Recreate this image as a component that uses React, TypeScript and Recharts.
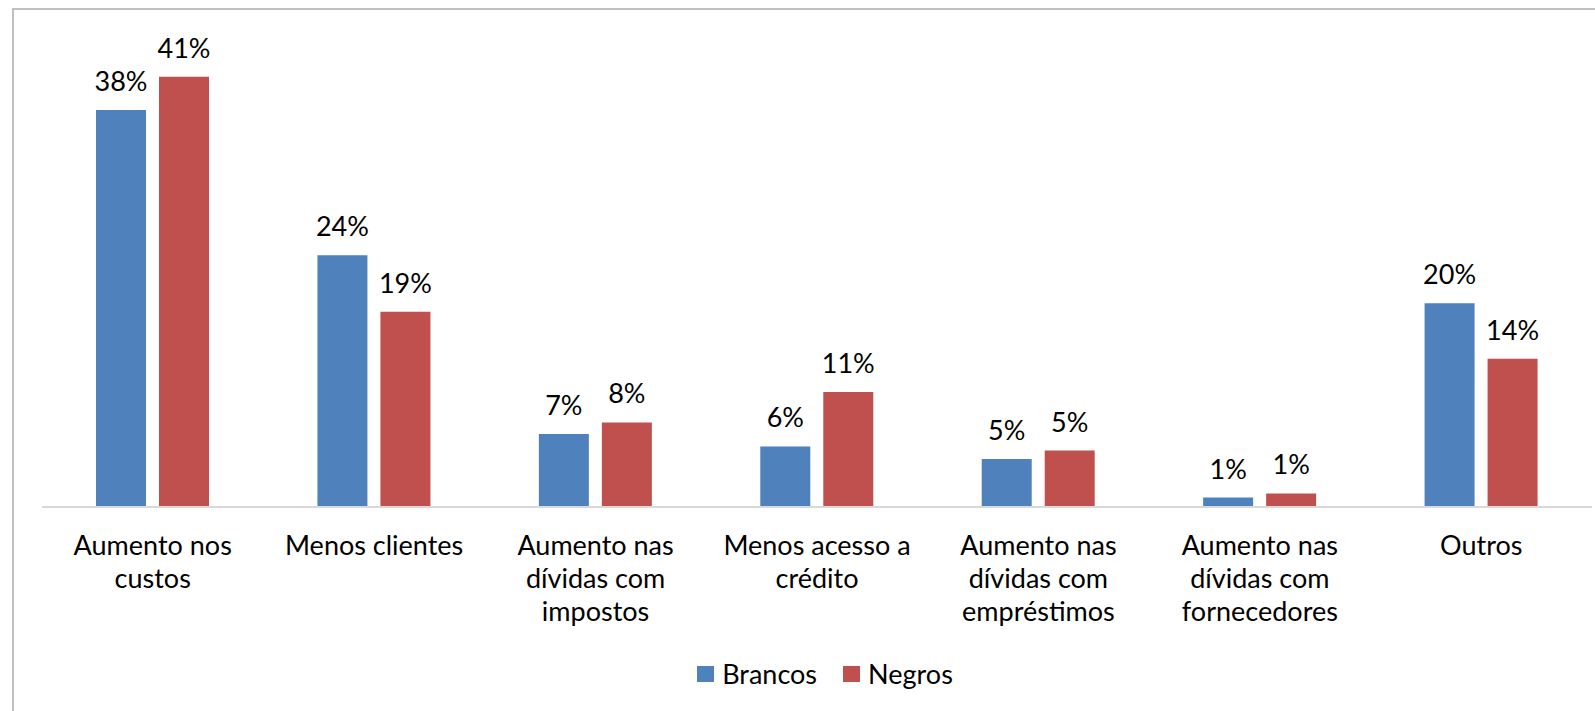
import React from "react";
import { BarChart, Bar, XAxis, YAxis, LabelList, Legend } from "recharts";

const categories = [
  "Aumento nos custos",
  "Menos clientes",
  "Aumento nas dívidas com impostos",
  "Menos acesso a crédito",
  "Aumento nas dívidas com empréstimos",
  "Aumento nas dívidas com fornecedores",
  "Outros",
];

// percentages
const brancos = [38.0, 24.1, 7.0, 5.8, 4.6, 0.9, 19.5];
const negros = [41.2, 18.7, 8.1, 11.0, 5.4, 1.3, 14.2];

const BLUE = "#4F81BD";
const RED = "#C0504D";
const FONT = "Lato, 'Open Sans', sans-serif";

const data = categories.map((name, i) => ({
  name,
  Brancos: brancos[i],
  Negros: negros[i],
}));

function wrapLabel(text: string, max: number) {
  const words = text.split(" ");
  const lines: string[] = [];
  let cur = "";
  words.forEach((w) => {
    const next = cur ? cur + " " + w : w;
    if (next.length > max && cur) {
      lines.push(cur);
      cur = w;
    } else {
      cur = next;
    }
  });
  if (cur) lines.push(cur);
  return lines;
}

const CategoryTick = (props: any) => {
  const { x, y, payload } = props;
  const lines = wrapLabel(payload.value, 14);
  return (
    <text x={x} y={y} textAnchor="middle" fontSize={27} fontFamily={FONT} fill="#000">
      {lines.map((l, i) => (
        <tspan key={i} x={x} dy={i === 0 ? 48 : 33}>
          {l}
        </tspan>
      ))}
    </text>
  );
};

const LegendContent = () => (
  <div
    style={{
      display: "flex",
      justifyContent: "center",
      alignItems: "center",
      fontFamily: FONT,
      fontSize: 27,
      color: "#000",
    }}
  >
    {[
      { name: "Brancos", color: BLUE },
      { name: "Negros", color: RED },
    ].map((item, i) => (
      <div key={item.name} style={{ display: "flex", alignItems: "center", marginLeft: i ? 26 : 0 }}>
        <span style={{ width: 17, height: 16, background: item.color, display: "inline-block", marginRight: 8 }} />
        <span>{item.name}</span>
      </div>
    ))}
  </div>
);

export default function App() {
  const fmt = (v: any) => `${Math.round(Number(v))}%`;
  return (
    <div
      style={{
        position: "absolute",
        left: 0,
        top: 0,
        width: 1595,
        height: 711,
        overflow: "hidden",
        background: "#fff",
      }}
    >
      <div
        style={{
          position: "absolute",
          left: 12,
          top: 8,
          width: 1700,
          height: 800,
          border: "2px solid #c0c0c0",
        }}
      />
      <div style={{ position: "absolute", left: 0, top: 0 }}>
        <BarChart
          width={1595}
          height={711}
          data={data}
          margin={{ top: 37, right: 3, left: 42, bottom: 141 }}
          barGap={13}
          barSize={50}
        >
          <XAxis
            dataKey="name"
            axisLine={{ stroke: "#d9d9d9", strokeWidth: 2 }}
            tickLine={false}
            tickSize={0}
            tickMargin={0}
            interval={0}
            tick={<CategoryTick />}
          />
          <YAxis hide domain={[0, 45]} />
          <Legend
            content={<LegendContent />}
            wrapperStyle={{ position: "absolute", top: 657, left: 0, width: 1650 }}
          />
          <Bar dataKey="Brancos" fill={BLUE} isAnimationActive={false}>
            <LabelList
              dataKey="Brancos"
              position="top"
              offset={19}
              formatter={fmt}
              style={{ fontFamily: FONT, fontSize: 27, fill: "#000" }}
            />
          </Bar>
          <Bar dataKey="Negros" fill={RED} isAnimationActive={false}>
            <LabelList
              dataKey="Negros"
              position="top"
              offset={19}
              formatter={fmt}
              style={{ fontFamily: FONT, fontSize: 27, fill: "#000" }}
            />
          </Bar>
        </BarChart>
      </div>
    </div>
  );
}
